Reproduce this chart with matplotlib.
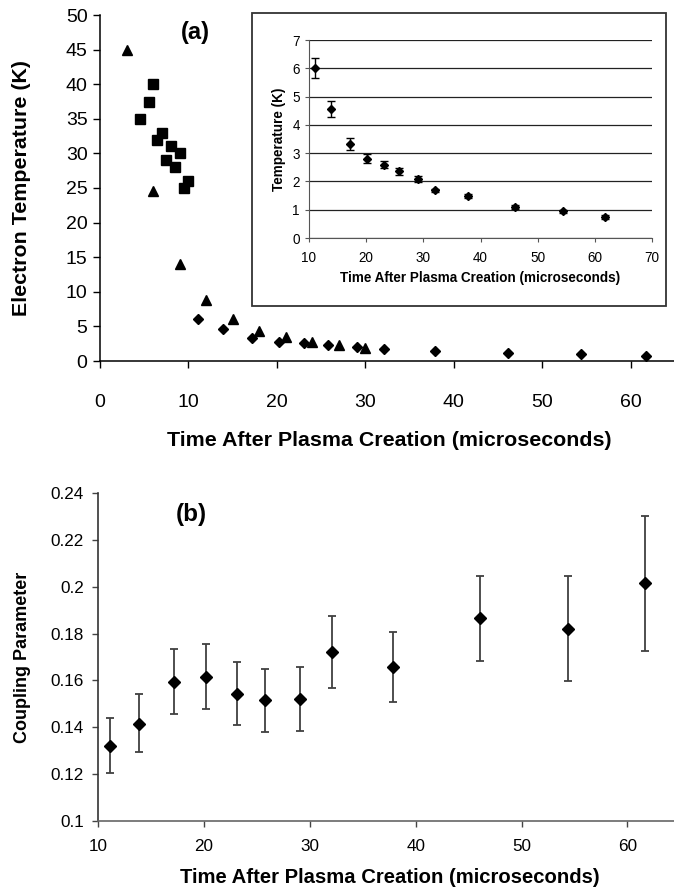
import matplotlib
matplotlib.use("Agg")
import matplotlib.pyplot as plt
from matplotlib.patches import Rectangle
from matplotlib.ticker import FuncFormatter

plt.rcParams['font.family'] = ['Liberation Sans', 'DejaVu Sans']

# ---- Panel (a): electron temperature ----
tri_t = [3, 6, 9, 12, 15, 18, 21, 24, 27, 30]
tri_T = [45, 24.5, 14, 8.8, 6.0, 4.4, 3.5, 2.8, 2.35, 1.95]

sq_t = [4.5, 5.5, 6, 6.5, 7, 7.5, 8, 8.5, 9, 9.5, 10]
sq_T = [35, 37.5, 40, 32, 33, 29, 31, 28, 30, 25, 26]

dia_t = [11.1, 13.9, 17.2, 20.2, 23.1, 25.8, 29.1, 32.1, 37.9, 46.1, 54.4, 61.7]
dia_T = [6.01, 4.56, 3.32, 2.81, 2.59, 2.36, 2.09, 1.68, 1.49, 1.09, 0.94, 0.74]
dia_err = [0.34, 0.27, 0.2, 0.15, 0.13, 0.12, 0.1, 0.07, 0.07, 0.06, 0.06, 0.06]

# ---- Panel (b): coupling parameter ----
gam = [0.132, 0.1416, 0.1593, 0.1615, 0.1542, 0.1515, 0.152, 0.172, 0.1657, 0.1865, 0.182, 0.2014]
gam_lo = [0.1207, 0.1294, 0.1455, 0.1476, 0.141, 0.1382, 0.1385, 0.1569, 0.1508, 0.1684, 0.1596, 0.1726]
gam_hi = [0.1438, 0.154, 0.1733, 0.1757, 0.168, 0.1647, 0.1656, 0.1873, 0.1806, 0.2045, 0.2045, 0.2303]

W, H = 674, 894
fig = plt.figure(figsize=(W / 100, H / 100), dpi=100)


def fbox(x0, y0, x1, y1):
    return [x0 / W, 1 - y1 / H, (x1 - x0) / W, (y1 - y0) / H]


fmt = FuncFormatter(lambda v, p: f"{v:g}")

# Top main axes  (pixel box 100..675 x 15..361)
ax = fig.add_axes(fbox(100, 15, 675, 361))
ax.plot(tri_t, tri_T, linestyle='none', marker='^', color='black', markersize=7.5)
ax.plot(sq_t, sq_T, linestyle='none', marker='s', color='black', markersize=6.5)
ax.plot(dia_t, dia_T, linestyle='none', marker='D', color='black', markersize=5.3)
ax.set_xlim(0, 65)
ax.set_ylim(0, 50)
ax.set_xticks(range(0, 61, 10))
ax.set_yticks(range(0, 51, 5))
for s in ['top', 'right']:
    ax.spines[s].set_visible(False)
for s in ['left', 'bottom']:
    ax.spines[s].set_color('black')
    ax.spines[s].set_linewidth(1.1)
ax.tick_params(axis='both', direction='out', length=5, width=1, labelsize=14, color='black')
ax.tick_params(axis='x', pad=19)
ax.tick_params(axis='y', pad=4)
ax.set_ylabel('Electron Temperature (K)', fontsize=15.4, fontweight='bold')
ax.yaxis.set_label_coords((31 - 100) / 575, 0.5)
ax.set_xlabel('Time After Plasma Creation (microseconds)', fontsize=15.4, fontweight='bold')
ax.xaxis.set_label_coords((389 - 100) / 575, -(431 - 361) / 346)
ax.text((195 - 100) / 575, 1 - (33 - 15) / 346, '(a)', transform=ax.transAxes,
        fontsize=17, fontweight='bold', ha='center', va='center')

# Inset frame
fig.patches.append(Rectangle((252 / W, 1 - 306 / H), (666 - 252) / W, (306 - 13) / H,
                             transform=fig.transFigure, fill=True, facecolor='white',
                             edgecolor='#333333', linewidth=1.3, zorder=2))

# Inset axes (pixel box 309..652 x 40..238)
axi = fig.add_axes(fbox(309, 40, 652, 238), zorder=3)
axi.set_facecolor('none')
axi.errorbar(dia_t, dia_T, yerr=dia_err, fmt='D', color='black', markersize=3.9,
             ecolor='black', elinewidth=1, capsize=2.8, capthick=1)
axi.set_xlim(10, 70)
axi.set_ylim(0, 7)
axi.set_xticks(range(10, 71, 10))
axi.set_yticks(range(0, 8))
axi.yaxis.grid(True, color='#222222', linewidth=0.9)
axi.set_axisbelow(True)
for s in ['top', 'right']:
    axi.spines[s].set_visible(False)
for s in ['left', 'bottom']:
    axi.spines[s].set_color('#555555')
axi.tick_params(axis='both', direction='out', length=3, width=0.8, labelsize=9.75, color='#555555')
axi.tick_params(axis='x', pad=6.5)
axi.tick_params(axis='y', pad=3.5)
axi.set_ylabel('Temperature (K)', fontsize=9.75, fontweight='bold')
axi.yaxis.set_label_coords((286 - 309) / 343, 0.5)
axi.set_xlabel('Time After Plasma Creation (microseconds)', fontsize=9.75, fontweight='bold')
axi.xaxis.set_label_coords(0.5, -(270.7 - 238) / 198)

# Bottom axes (pixel box 98..674 x 493..821)
axb = fig.add_axes(fbox(98, 493, 674, 821))
yerr_b = [[g - l for g, l in zip(gam, gam_lo)], [h - g for g, h in zip(gam, gam_hi)]]
axb.errorbar(dia_t, gam, yerr=yerr_b, fmt='D', color='black', markersize=5.8,
             ecolor='#404040', elinewidth=1.3, capsize=2.6, capthick=1.3)
axb.set_xlim(10, 64.4)
axb.set_ylim(0.1, 0.24)
axb.set_xticks(range(10, 61, 10))
axb.set_yticks([0.1, 0.12, 0.14, 0.16, 0.18, 0.2, 0.22, 0.24])
axb.yaxis.set_major_formatter(fmt)
for s in ['top', 'right']:
    axb.spines[s].set_visible(False)
axb.spines['left'].set_color('#333333')
axb.spines['bottom'].set_color('#666666')
axb.spines['left'].set_linewidth(1.2)
axb.spines['bottom'].set_linewidth(1.2)
axb.tick_params(axis='both', direction='out', length=4.3, width=1, labelsize=12.3, color='#444444')
axb.tick_params(axis='x', pad=9)
axb.tick_params(axis='y', pad=6)
axb.set_ylabel('Coupling Parameter', fontsize=13, fontweight='bold')
axb.yaxis.set_label_coords((31 - 98) / 576, 0.5)
axb.set_xlabel('Time After Plasma Creation (microseconds)', fontsize=14.6, fontweight='bold')
axb.xaxis.set_label_coords((390 - 98) / 576, -(868 - 821) / 328)
axb.text((191 - 98) / 576, 1 - (515 - 493) / 328, '(b)', transform=axb.transAxes,
         fontsize=17.5, fontweight='bold', ha='center', va='center')

fig.savefig('out.png', dpi=100)
